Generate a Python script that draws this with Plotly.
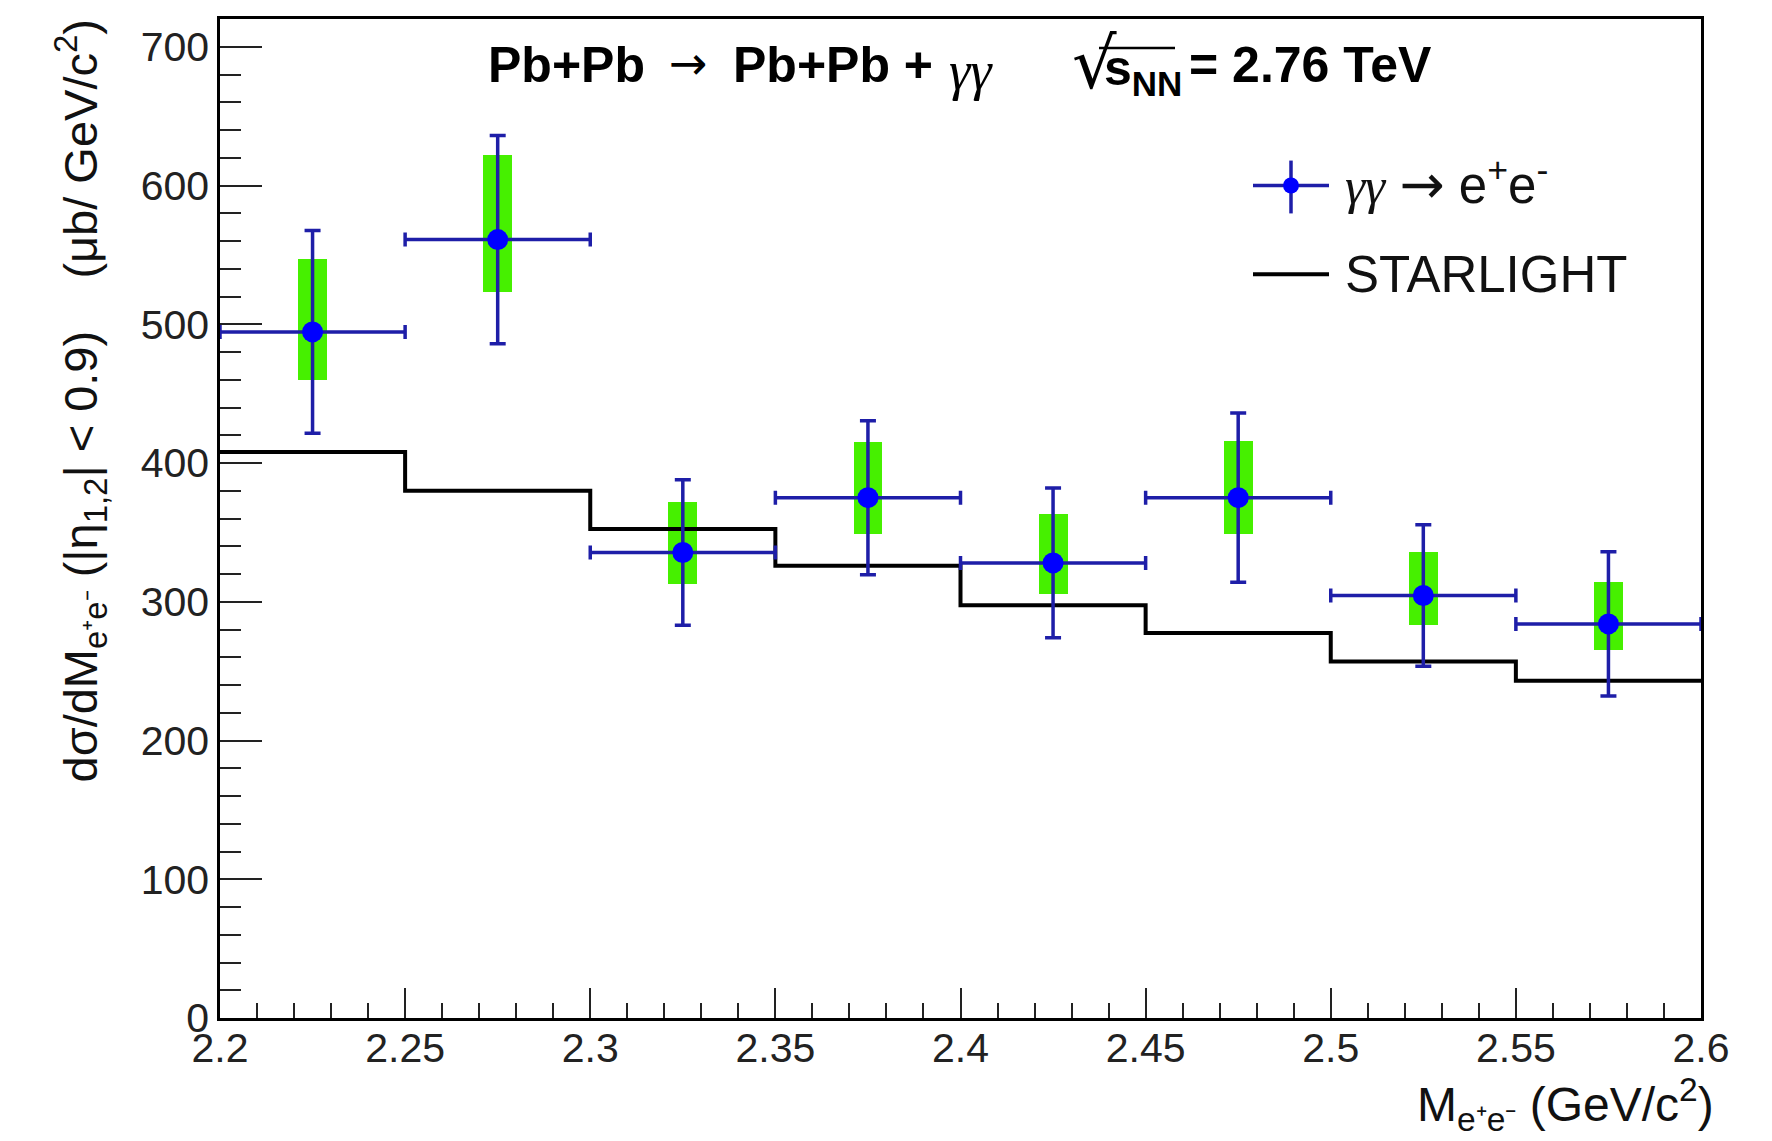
import numpy as np
import plotly.graph_objects as go

# ---------------- data ----------------
bin_edges = [2.20, 2.25, 2.30, 2.35, 2.40, 2.45, 2.50, 2.55, 2.60]
bin_centers = [2.225, 2.275, 2.325, 2.375, 2.425, 2.475, 2.525, 2.575]
xsec = [494.5, 561.0, 335.5, 375.0, 328.0, 375.0, 304.5, 284.0]
stat_err = [73.0, 75.0, 52.5, 55.5, 54.0, 61.0, 51.0, 52.0]
syst_up = [52.5, 61.0, 36.5, 40.0, 35.5, 40.5, 31.5, 30.5]
syst_down = [34.5, 38.0, 23.0, 26.5, 22.5, 26.0, 21.0, 19.0]
starlight = [408.0, 380.0, 352.5, 326.0, 297.5, 277.5, 257.0, 243.0]

x_tickvals = [2.2, 2.25, 2.3, 2.35, 2.4, 2.45, 2.5, 2.55, 2.6]
x_ticktext = ["2.2", "2.25", "2.3", "2.35", "2.4", "2.45", "2.5", "2.55", "2.6"]
y_tickvals = [0, 100, 200, 300, 400, 500, 600, 700]
y_ticktext = ["0", "100", "200", "300", "400", "500", "600", "700"]

# ---------------- style ----------------
FONT = "Liberation Sans, Arial, Helvetica, sans-serif"
SERIF = "Liberation Serif, DejaVu Serif, serif"
ARROWF = "DejaVu Sans, sans-serif"
GREEN = "#46f000"
NAVY = "#1e1ea8"
BLUE = "#0000ff"

OFF = 8  # page body margin
W, H = 1772 - OFF, 1141 - OFF
# plot area in window pixels: left 220, right 1701, top 16, bottom 1018
L, R, T, B = 220 - OFF, 71, 16 - OFF, 123
PW, PH = W - L - R, H - T - B


def px(xw):
    return (xw - OFF - L) / PW


def py(yw):
    return (H - B - (yw - OFF)) / PH


fig = go.Figure()

half_w = [(bin_edges[i + 1] - bin_edges[i]) / 2 for i in range(len(bin_centers))]

# systematic boxes
fig.add_trace(go.Bar(
    x=bin_centers,
    base=[v - d for v, d in zip(xsec, syst_down)],
    y=[u + d for u, d in zip(syst_up, syst_down)],
    width=0.0078,
    marker=dict(color=GREEN, line=dict(width=0)),
    showlegend=False,
    hoverinfo="skip",
))

# STARLIGHT histogram
fig.add_trace(go.Scatter(
    x=bin_edges,
    y=starlight + [starlight[-1]],
    mode="lines",
    line=dict(color="black", width=4, shape="hv"),
    showlegend=False,
))

# data points
fig.add_trace(go.Scatter(
    x=bin_centers,
    y=xsec,
    mode="markers",
    marker=dict(color=BLUE, size=21, symbol="circle"),
    error_y=dict(type="data", array=stat_err, color=NAVY, thickness=3.5, width=8),
    error_x=dict(type="data", array=half_w, color=NAVY, thickness=3.5, width=7),
    showlegend=False,
))

fig.update_layout(
    width=W, height=H,
    margin=dict(l=L, r=R, t=T, b=B, pad=0),
    paper_bgcolor="white",
    plot_bgcolor="white",
    font=dict(family=FONT, color="#111111", size=41),
    showlegend=False,
    bargap=0,
)

fig.update_xaxes(
    range=[2.2, 2.6],
    tickmode="array", tickvals=x_tickvals, ticktext=x_ticktext,
    ticks="inside", ticklen=30, tickwidth=2, tickcolor="#222222",
    tickfont=dict(size=41, family=FONT, color="#222222"),
    ticklabelstandoff=-8,
    showline=True, linewidth=2.5, linecolor="black", mirror=True,
    showgrid=False, zeroline=False,
    minor=dict(tickmode="array", tickvals=list(np.round(np.arange(2.2, 2.6001, 0.01), 3)),
               ticks="inside", ticklen=15, tickwidth=2, tickcolor="#222222", showgrid=False),
)
fig.update_yaxes(
    range=[0, 720],
    tickmode="array", tickvals=y_tickvals, ticktext=y_ticktext,
    ticks="inside", ticklen=42, tickwidth=2, tickcolor="#222222",
    tickfont=dict(size=41, family=FONT, color="#222222"),
    showline=True, linewidth=2.5, linecolor="black", mirror=True,
    showgrid=False, zeroline=False,
    minor=dict(tickmode="array", tickvals=list(range(0, 721, 20)),
               ticks="inside", ticklen=21, tickwidth=2, tickcolor="#222222", showgrid=False),
)


def label(xw, yw, text, size, family=FONT, color="black", xanchor="left", yanchor="middle", angle=0):
    fig.add_annotation(
        xref="paper", yref="paper", x=px(xw), y=py(yw), xanchor=xanchor, yanchor=yanchor,
        showarrow=False, text=text, textangle=angle,
        font=dict(size=size, family=family, color=color),
    )


# header text, built in pieces
HY = 62
label(486, HY, "<b>Pb+Pb</b>", 50)
label(667, HY - 2, "\u2192", 46, family=ARROWF)
label(731, HY, "<b>Pb+Pb +</b>", 50)
label(947, HY + 6, "<i>\u03b3\u03b3</i>", 54, family=SERIF)
label(1070, HY - 1, "\u221a", 70, family=ARROWF)
label(1102, HY + 7, "<b>s<sub>NN</sub></b>", 50)
label(1187, HY, "<b>= 2.76 TeV</b>", 50)
fig.add_shape(type="line", xref="paper", yref="paper",
              x0=px(1099), x1=px(1175), y0=py(45), y1=py(45),
              line=dict(color="black", width=2.5))

# y-axis title
label(81, 15,
      "d\u03c3/dM<sub>e\u207ae\u207b</sub> (|\u03b7<sub>1,2</sub>| &lt; 0.9)"
      "\u00a0\u00a0\u00a0\u00a0(\u03bcb/ GeV/c<sup>2</sup>)",
      47, color="#111111", xanchor="center", yanchor="top", angle=-90)

# x-axis title
label(1716, 1140, "M<sub>e\u207ae\u207b</sub> (GeV/c<sup>2</sup>)", 48,
      color="#111111", xanchor="right", yanchor="bottom")

# legend (manual)
fig.add_shape(type="line", xref="paper", yref="paper",
              x0=px(1253), x1=px(1329), y0=py(183), y1=py(183),
              line=dict(color=NAVY, width=3.5))
fig.add_shape(type="line", xref="paper", yref="paper",
              x0=px(1291), x1=px(1291), y0=py(158), y1=py(211),
              line=dict(color=NAVY, width=3.5))
fig.add_shape(type="circle", xref="paper", yref="paper",
              xsizemode="pixel", ysizemode="pixel",
              xanchor=px(1291), yanchor=py(183),
              x0=-8, x1=8, y0=-8, y1=8,
              fillcolor=BLUE, line=dict(color=BLUE, width=0))
label(1343, 180,
      "<span style='font-family:Liberation Serif, DejaVu Serif, serif'><i>\u03b3\u03b3</i></span>"
      "\u00a0<span style='font-family:DejaVu Sans, sans-serif;font-size:54px'>\u2192</span>"
      "\u00a0e<sup>+</sup>e<sup>-</sup>",
      51, color="#111111")
fig.add_shape(type="line", xref="paper", yref="paper",
              x0=px(1253), x1=px(1329), y0=py(272), y1=py(272),
              line=dict(color="black", width=4))
label(1343, 272, "STARLIGHT", 51, color="#111111")

fig.write_html("out.html")
